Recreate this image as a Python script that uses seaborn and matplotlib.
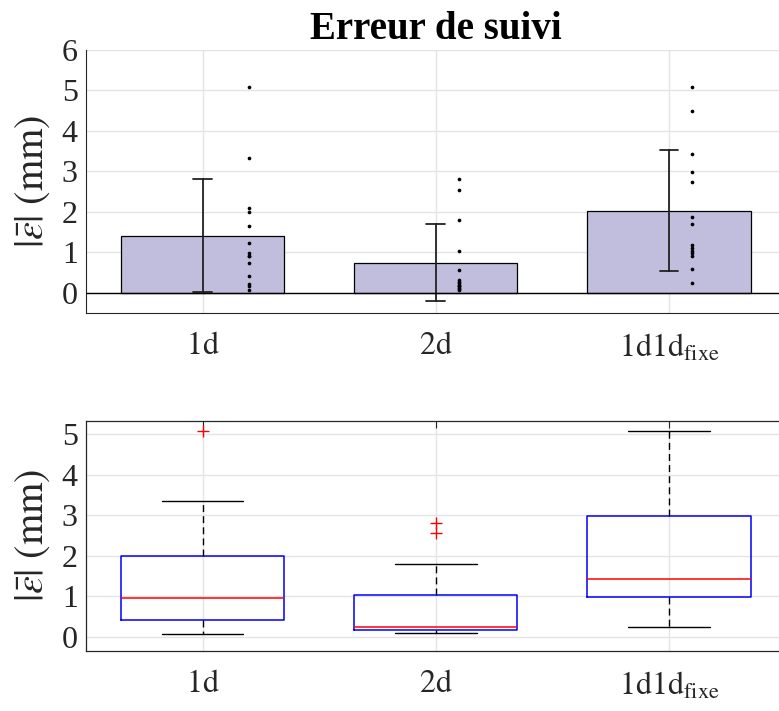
import numpy as np
import pandas as pd
import matplotlib.pyplot as plt
import seaborn as sns

# Données (erreur de suivi en mm, 14 essais par condition)
groupes = ['1d', '2d', '1d1d_fixe']
etiquettes = [r'$\mathrm{1d}$', r'$\mathrm{2d}$', r'$\mathrm{1d1d}_{\mathrm{fixe}}$']

err_1d = [5.09, 3.34, 2.10, 1.99, 1.64, 1.23, 0.98, 0.92, 0.90, 0.73, 0.42, 0.21, 0.17, 0.07]
err_2d = [2.81, 2.55, 1.79, 1.04, 0.56, 0.32, 0.26, 0.23, 0.20, 0.17, 0.16, 0.12, 0.09, 0.08]
err_1d1d_fixe = [5.08, 4.50, 3.42, 2.98, 2.73, 1.88, 1.70, 1.17, 1.10, 1.04, 0.98, 0.92, 0.59, 0.24]

couleur_barre = '#c0bedc'
decalage_points = [0.2, 0.1, 0.1]

series = [err_1d, err_2d, err_1d1d_fixe]
df = pd.DataFrame({
    'groupe': np.repeat(groupes, [len(s) for s in series]),
    'erreur': np.concatenate(series),
})

sns.set_style('whitegrid', {'grid.color': '#e4e4e4', 'axes.edgecolor': '#262626'})
plt.rcParams['font.family'] = ['Liberation Serif', 'DejaVu Serif']
plt.rcParams['mathtext.fontset'] = 'stix'

fig = plt.figure(figsize=(7.79, 7.11), dpi=100)
ax1 = fig.add_axes([0.1104, 0.5598, 0.898, 0.3699])
ax2 = fig.add_axes([0.1104, 0.0848, 0.898, 0.3235])

# Diagramme en barres (moyenne +/- écart-type) avec les points individuels
sns.barplot(data=df, x='groupe', y='erreur', order=groupes, errorbar='sd',
            color=couleur_barre, saturation=1, width=0.7, edgecolor='k', linewidth=0.9,
            capsize=0.08, err_kws={'color': '#222222', 'linewidth': 1.3}, ax=ax1)
for i, vals in enumerate(series):
    ax1.scatter(np.full(len(vals), i + decalage_points[i]), vals, s=7, color='k',
                linewidths=0, zorder=5)
ax1.axhline(0, color='k', lw=1, zorder=4)
ax1.set_ylim(-0.5, 6)
ax1.set_xlim(-0.5, 2.5)
ax1.set_yticks(range(0, 7))
ax1.set_title('Erreur de suivi', fontweight='bold', fontsize=28, pad=8, color='k')
sns.despine(ax=ax1)

# Boîtes à moustaches (quartiles calculés comme sous MATLAB)
stats = []
for g, vals in zip(groupes, series):
    v = np.sort(np.asarray(vals))
    q1, med, q3 = np.percentile(v, [25, 50, 75], method='hazen')
    iqr = q3 - q1
    dedans = v[(v >= q1 - 1.5 * iqr) & (v <= q3 + 1.5 * iqr)]
    stats.append({'label': g, 'med': med, 'q1': q1, 'q3': q3,
                  'whislo': dedans.min(), 'whishi': dedans.max(),
                  'fliers': v[(v < dedans.min()) | (v > dedans.max())]})
ax2.bxp(stats, positions=range(3), widths=0.7, capwidths=0.35, manage_ticks=False,
        boxprops={'color': 'blue', 'linewidth': 1.1},
        medianprops={'color': 'red', 'linewidth': 1.1},
        whiskerprops={'color': 'k', 'linestyle': (0, (5, 3)), 'linewidth': 1},
        capprops={'color': 'k', 'linewidth': 1},
        flierprops={'marker': '+', 'markeredgecolor': 'red', 'markersize': 8,
                    'markeredgewidth': 1, 'linestyle': 'none'})
ax2.set_ylim(-0.346, 5.333)
ax2.set_xlim(-0.5, 2.5)
ax2.set_yticks(range(0, 6))
for s in ax2.spines.values():
    s.set_visible(True)
    s.set_color('#262626')
    s.set_linewidth(0.9)
ax2.tick_params(top=True, right=True)

for ax in (ax1, ax2):
    ax.set_axisbelow(True)
    ax.grid(True, axis='both', color='#e4e4e4', lw=1)
    ax.set_xticks(range(3))
    ax.set_xticklabels(etiquettes)
    ax.set_xlabel('')
    ax.set_ylabel(r'$|\bar{\varepsilon}|\ (\mathrm{mm})$', fontsize=29, color='#262626')
    ax.yaxis.set_label_coords(-0.049, 0.5)
    ax.tick_params(axis='both', direction='in', length=5, width=0.8, color='#262626',
                   labelcolor='#262626', labelsize=23)
    ax.tick_params(axis='x', pad=14)
    ax.tick_params(axis='y', pad=6)

fig.savefig('out.png', dpi=100)
